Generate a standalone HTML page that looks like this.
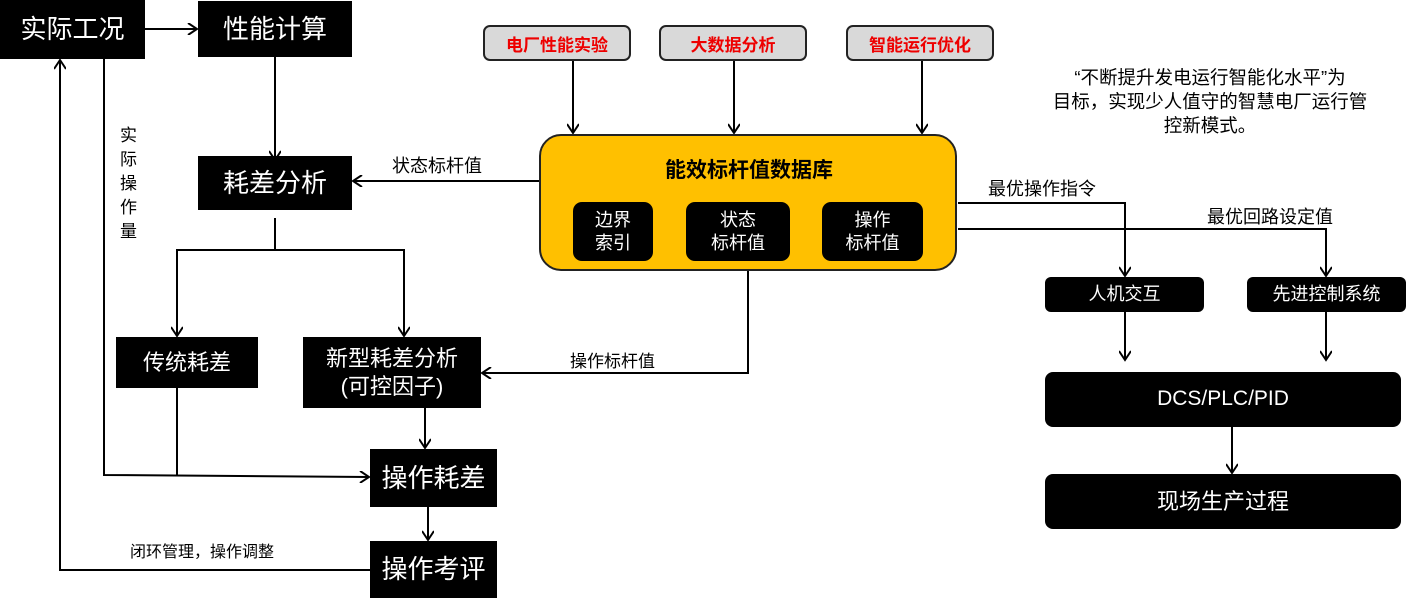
<!DOCTYPE html>
<html><head><meta charset="utf-8"><style>
body{margin:0;width:1408px;height:598px;background:#fff;overflow:hidden;position:relative;font-family:"Liberation Sans","Noto Sans CJK SC",sans-serif}
.b{position:absolute;background:#000;color:#fff;display:flex;align-items:center;justify-content:center;text-align:center;line-height:1.25}
.g{position:absolute;background:#d9d9d9;border:2px solid #222;border-radius:7px;color:#e00;font-weight:bold;font-size:17px;display:flex;align-items:center;justify-content:center;box-sizing:border-box}
.t{position:absolute;font-size:17px;color:#000;white-space:nowrap}
svg{position:absolute;left:0;top:0}
</style></head><body>
<svg width="1408" height="598" fill="none" stroke="#000" stroke-width="2">
<defs><marker id="a" markerWidth="12" markerHeight="12" refX="10" refY="6" orient="auto" markerUnits="userSpaceOnUse"><path d="M1,0 L10,6 L1,12" stroke="#000" stroke-width="2" fill="none"/></marker></defs>
<line x1="145" y1="29" x2="197" y2="29" marker-end="url(#a)"/>
<line x1="275" y1="57" x2="275" y2="160" marker-end="url(#a)"/>
<line x1="540" y1="181" x2="353" y2="181" marker-end="url(#a)"/>
<polyline points="275,218 275,250"/>
<polyline points="177,336 177,250 404,250 404,336" />
<line x1="177" y1="300" x2="177" y2="336" marker-end="url(#a)"/>
<line x1="404" y1="300" x2="404" y2="336" marker-end="url(#a)"/>
<polyline points="104,59 104,475 369,477" marker-end="url(#a)"/>
<line x1="177" y1="388" x2="177" y2="476"/>
<line x1="425" y1="408" x2="425" y2="448" marker-end="url(#a)"/>
<line x1="428" y1="507" x2="428" y2="540" marker-end="url(#a)"/>
<polyline points="370,570 60,570 60,60" marker-end="url(#a)"/>
<polyline points="748,270 748,373 482,373" marker-end="url(#a)"/>
<line x1="573" y1="61" x2="573" y2="133" marker-end="url(#a)"/>
<line x1="734" y1="61" x2="734" y2="133" marker-end="url(#a)"/>
<line x1="922" y1="61" x2="922" y2="133" marker-end="url(#a)"/>
<polyline points="958,203 1125,203 1125,276" marker-end="url(#a)"/>
<polyline points="958,229 1326,229 1326,276" marker-end="url(#a)"/>
<line x1="1125" y1="312" x2="1125" y2="360" marker-end="url(#a)"/>
<line x1="1326" y1="312" x2="1326" y2="360" marker-end="url(#a)"/>
<line x1="1232" y1="427" x2="1232" y2="473" marker-end="url(#a)"/>
</svg>
<div class="b" style="left:0;top:0;width:145px;height:59px;font-size:26px">实际工况</div>
<div class="b" style="left:198px;top:1px;width:154px;height:56px;font-size:26px">性能计算</div>
<div class="b" style="left:198px;top:156px;width:154px;height:54px;font-size:26px">耗差分析</div>
<div class="b" style="left:116px;top:337px;width:142px;height:51px;font-size:22px">传统耗差</div>
<div class="b" style="left:303px;top:337px;width:178px;height:71px;font-size:22px">新型耗差分析<br>(可控因子)</div>
<div class="b" style="left:370px;top:449px;width:127px;height:58px;font-size:26px">操作耗差</div>
<div class="b" style="left:370px;top:541px;width:127px;height:57px;font-size:26px">操作考评</div>
<div class="t" style="left:120px;top:124px;width:20px;white-space:normal;line-height:24px;font-size:17px">实际操作量</div>
<div class="t" style="left:392px;top:152px;font-size:18px">状态标杆值</div>
<div class="t" style="left:570px;top:347px">操作标杆值</div>
<div class="t" style="left:130px;top:538px;font-size:16px">闭环管理，操作调整</div>
<div class="g" style="left:483px;top:25px;width:148px;height:36px">电厂性能实验</div>
<div class="g" style="left:659px;top:25px;width:148px;height:36px">大数据分析</div>
<div class="g" style="left:846px;top:25px;width:148px;height:36px">智能运行优化</div>
<div style="position:absolute;left:539px;top:134px;width:418px;height:137px;background:#ffc000;border:2px solid #222;border-radius:22px;box-sizing:border-box"></div>
<div class="t" style="left:540px;top:154px;width:418px;text-align:center;font-weight:bold;font-size:21px">能效标杆值数据库</div>
<div class="b" style="left:573px;top:202px;width:80px;height:59px;font-size:18px;border-radius:9px">边界<br>索引</div>
<div class="b" style="left:686px;top:202px;width:104px;height:59px;font-size:18px;border-radius:9px">状态<br>标杆值</div>
<div class="b" style="left:822px;top:202px;width:101px;height:59px;font-size:18px;border-radius:9px">操作<br>标杆值</div>
<div class="t" style="left:1020px;top:66px;width:380px;text-align:center;white-space:normal;line-height:24px;font-size:18.5px">“不断提升发电运行智能化水平”为<br>目标，实现少人值守的智慧电厂运行管<br>控新模式。</div>
<div class="t" style="left:988px;top:175px;font-size:18px">最优操作指令</div>
<div class="t" style="left:1207px;top:203px;font-size:18px">最优回路设定值</div>
<div class="b" style="left:1045px;top:277px;width:159px;height:35px;font-size:18px;border-radius:6px">人机交互</div>
<div class="b" style="left:1247px;top:277px;width:159px;height:35px;font-size:18px;border-radius:6px">先进控制系统</div>
<div class="b" style="left:1045px;top:372px;width:356px;height:55px;font-size:21px;border-radius:8px">DCS/PLC/PID</div>
<div class="b" style="left:1045px;top:474px;width:356px;height:55px;font-size:22px;border-radius:8px">现场生产过程</div>
</body></html>
